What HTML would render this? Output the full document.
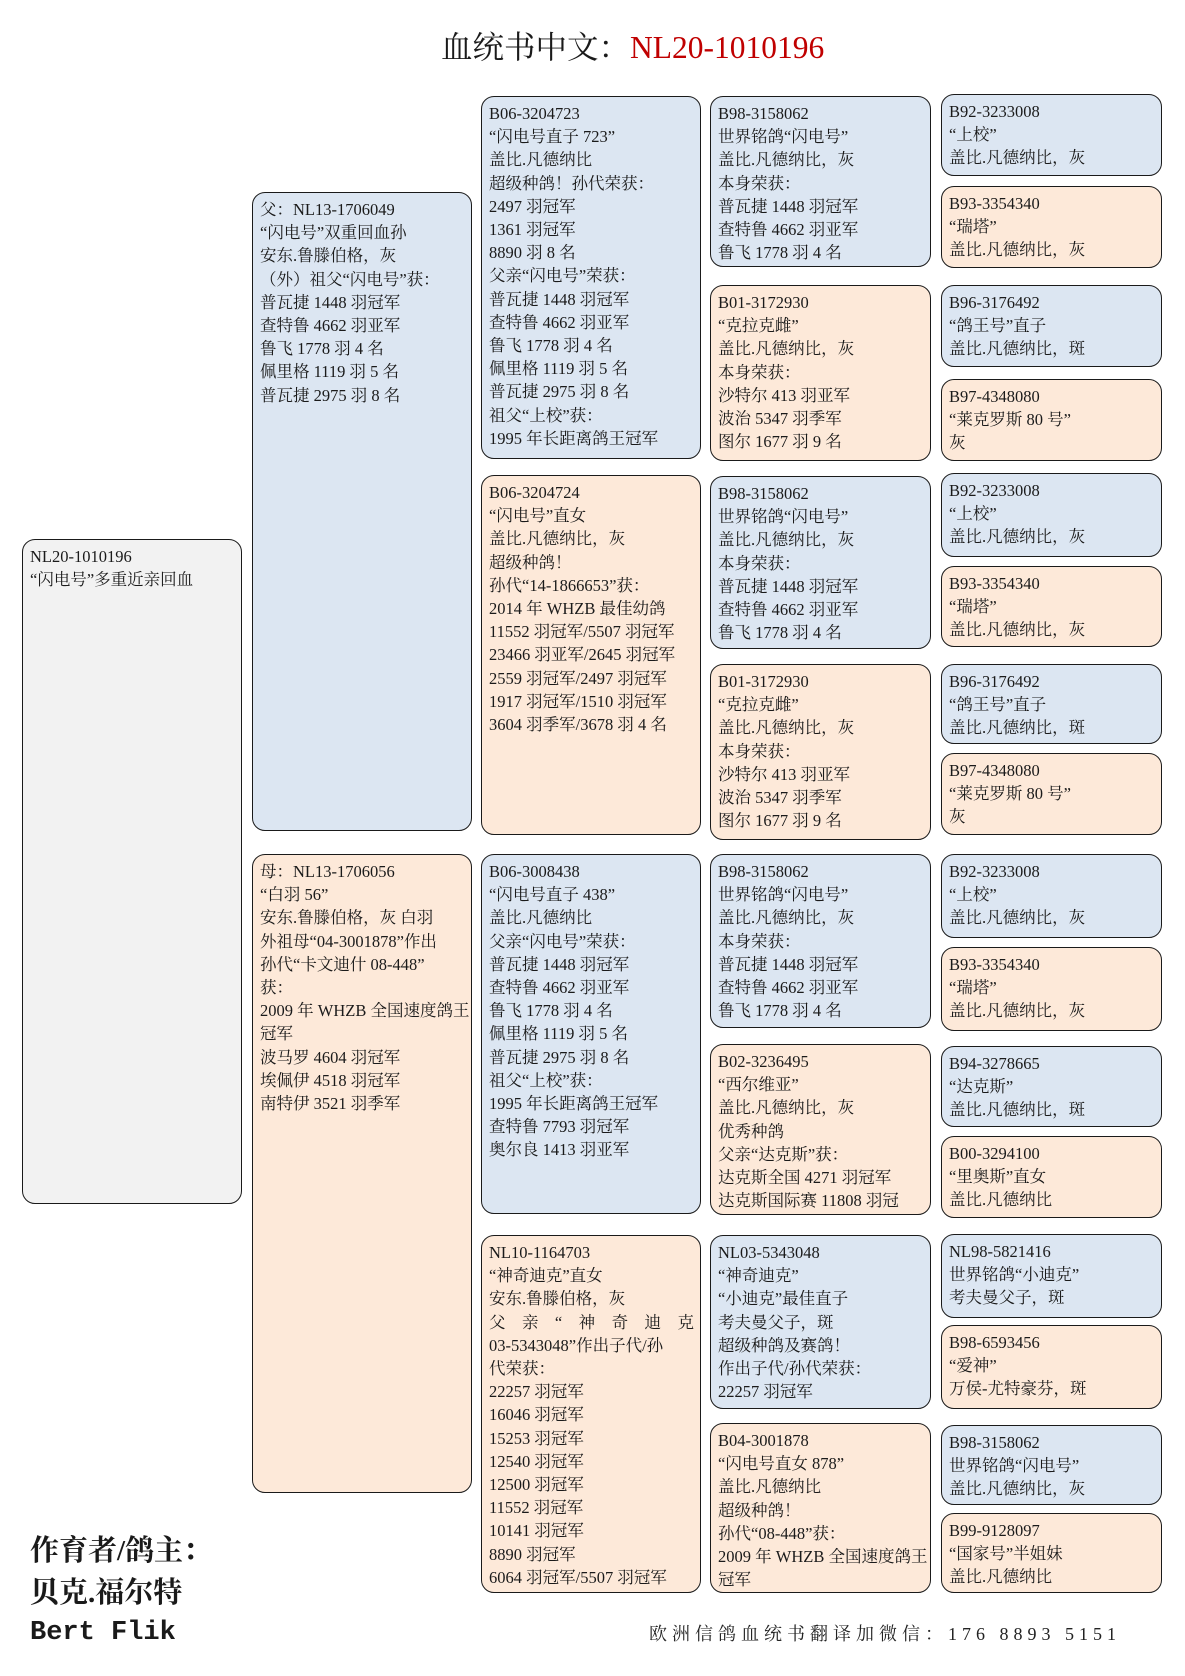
<!DOCTYPE html>
<html><head><meta charset="utf-8"><style>
*{margin:0;padding:0;box-sizing:border-box}
body{width:1185px;height:1676px;background:#fff;position:relative;overflow:hidden;font-family:"Liberation Serif","Noto Serif CJK SC",serif;color:#1a1a1a}
.b{position:absolute;border:1.6px solid #1a1a1a;border-radius:13px;padding:5px 0 0 7px;font-size:16.5px;line-height:23.2px;white-space:nowrap;overflow:hidden}
.u{background:#dce6f2}.p{background:#fde9d9}.g{background:#f2f2f2}
.j{display:block;text-align:justify;text-align-last:justify;width:205px}
</style></head><body>
<div style="position:absolute;left:441px;top:27px;font-size:31.5px;line-height:42px;white-space:nowrap">血统书中文：<span style="color:#c00000">NL20-1010196</span></div>

<div class="b g" style="left:22px;top:539px;width:220px;height:665px">NL20-1010196<br>“闪电号”多重近亲回血</div>

<div class="b u" style="left:252px;top:192px;width:220px;height:639px">父：NL13-1706049<br>“闪电号”双重回血孙<br>安东.鲁滕伯格，灰<br>（外）祖父“闪电号”获：<br>普瓦捷 1448 羽冠军<br>查特鲁 4662 羽亚军<br>鲁飞 1778 羽 4 名<br>佩里格 1119 羽 5 名<br>普瓦捷 2975 羽 8 名</div>
<div class="b p" style="left:252px;top:854px;width:220px;height:639px">母：NL13-1706056<br>“白羽 56”<br>安东.鲁滕伯格，灰 白羽<br>外祖母“04-3001878”作出<br>孙代“卡文迪什 08-448”<br>获：<br>2009 年 WHZB 全国速度鸽王<br>冠军<br>波马罗 4604 羽冠军<br>埃佩伊 4518 羽冠军<br>南特伊 3521 羽季军</div>

<div class="b u" style="left:481px;top:96px;width:220px;height:363px">B06-3204723<br>“闪电号直子 723”<br>盖比.凡德纳比<br>超级种鸽！孙代荣获：<br>2497 羽冠军<br>1361 羽冠军<br>8890 羽 8 名<br>父亲“闪电号”荣获：<br>普瓦捷 1448 羽冠军<br>查特鲁 4662 羽亚军<br>鲁飞 1778 羽 4 名<br>佩里格 1119 羽 5 名<br>普瓦捷 2975 羽 8 名<br>祖父“上校”获：<br>1995 年长距离鸽王冠军</div>
<div class="b p" style="left:481px;top:475px;width:220px;height:360px">B06-3204724<br>“闪电号”直女<br>盖比.凡德纳比，灰<br>超级种鸽！<br>孙代“14-1866653”获：<br>2014 年 WHZB 最佳幼鸽<br>11552 羽冠军/5507 羽冠军<br>23466 羽亚军/2645 羽冠军<br>2559 羽冠军/2497 羽冠军<br>1917 羽冠军/1510 羽冠军<br>3604 羽季军/3678 羽 4 名</div>
<div class="b u" style="left:481px;top:854px;width:220px;height:360px">B06-3008438<br>“闪电号直子 438”<br>盖比.凡德纳比<br>父亲“闪电号”荣获：<br>普瓦捷 1448 羽冠军<br>查特鲁 4662 羽亚军<br>鲁飞 1778 羽 4 名<br>佩里格 1119 羽 5 名<br>普瓦捷 2975 羽 8 名<br>祖父“上校”获：<br>1995 年长距离鸽王冠军<br>查特鲁 7793 羽冠军<br>奥尔良 1413 羽亚军</div>
<div class="b p" style="left:481px;top:1235px;width:220px;height:358px">NL10-1164703<br>“神奇迪克”直女<br>安东.鲁滕伯格，灰<br><span class="j">父亲“神奇迪克</span>03-5343048”作出子代/孙<br>代荣获：<br>22257 羽冠军<br>16046 羽冠军<br>15253 羽冠军<br>12540 羽冠军<br>12500 羽冠军<br>11552 羽冠军<br>10141 羽冠军<br>8890 羽冠军<br>6064 羽冠军/5507 羽冠军</div>

<div class="b u" style="left:710px;top:96px;width:221px;height:171px">B98-3158062<br>世界铭鸽“闪电号”<br>盖比.凡德纳比，灰<br>本身荣获：<br>普瓦捷 1448 羽冠军<br>查特鲁 4662 羽亚军<br>鲁飞 1778 羽 4 名</div>
<div class="b p" style="left:710px;top:285px;width:221px;height:176px">B01-3172930<br>“克拉克雌”<br>盖比.凡德纳比，灰<br>本身荣获：<br>沙特尔 413 羽亚军<br>波治 5347 羽季军<br>图尔 1677 羽 9 名</div>
<div class="b u" style="left:710px;top:476px;width:221px;height:173px">B98-3158062<br>世界铭鸽“闪电号”<br>盖比.凡德纳比，灰<br>本身荣获：<br>普瓦捷 1448 羽冠军<br>查特鲁 4662 羽亚军<br>鲁飞 1778 羽 4 名</div>
<div class="b p" style="left:710px;top:664px;width:221px;height:176px">B01-3172930<br>“克拉克雌”<br>盖比.凡德纳比，灰<br>本身荣获：<br>沙特尔 413 羽亚军<br>波治 5347 羽季军<br>图尔 1677 羽 9 名</div>
<div class="b u" style="left:710px;top:854px;width:221px;height:174px">B98-3158062<br>世界铭鸽“闪电号”<br>盖比.凡德纳比，灰<br>本身荣获：<br>普瓦捷 1448 羽冠军<br>查特鲁 4662 羽亚军<br>鲁飞 1778 羽 4 名</div>
<div class="b p" style="left:710px;top:1044px;width:221px;height:171px">B02-3236495<br>“西尔维亚”<br>盖比.凡德纳比，灰<br>优秀种鸽<br>父亲“达克斯”获：<br>达克斯全国 4271 羽冠军<br>达克斯国际赛 11808 羽冠</div>
<div class="b u" style="left:710px;top:1235px;width:221px;height:174px">NL03-5343048<br>“神奇迪克”<br>“小迪克”最佳直子<br>考夫曼父子，斑<br>超级种鸽及赛鸽！<br>作出子代/孙代荣获：<br>22257 羽冠军</div>
<div class="b p" style="left:710px;top:1423px;width:221px;height:170px">B04-3001878<br>“闪电号直女 878”<br>盖比.凡德纳比<br>超级种鸽！<br>孙代“08-448”获：<br>2009 年 WHZB 全国速度鸽王<br>冠军</div>

<div class="b u" style="left:941px;top:94px;width:221px;height:82px">B92-3233008<br>“上校”<br>盖比.凡德纳比，灰</div>
<div class="b p" style="left:941px;top:186px;width:221px;height:82px">B93-3354340<br>“瑞塔”<br>盖比.凡德纳比，灰</div>
<div class="b u" style="left:941px;top:285px;width:221px;height:82px">B96-3176492<br>“鸽王号”直子<br>盖比.凡德纳比，斑</div>
<div class="b p" style="left:941px;top:379px;width:221px;height:82px">B97-4348080<br>“莱克罗斯 80 号”<br>灰</div>
<div class="b u" style="left:941px;top:473px;width:221px;height:84px">B92-3233008<br>“上校”<br>盖比.凡德纳比，灰</div>
<div class="b p" style="left:941px;top:566px;width:221px;height:81px">B93-3354340<br>“瑞塔”<br>盖比.凡德纳比，灰</div>
<div class="b u" style="left:941px;top:664px;width:221px;height:80px">B96-3176492<br>“鸽王号”直子<br>盖比.凡德纳比，斑</div>
<div class="b p" style="left:941px;top:753px;width:221px;height:82px">B97-4348080<br>“莱克罗斯 80 号”<br>灰</div>
<div class="b u" style="left:941px;top:854px;width:221px;height:84px">B92-3233008<br>“上校”<br>盖比.凡德纳比，灰</div>
<div class="b p" style="left:941px;top:947px;width:221px;height:84px">B93-3354340<br>“瑞塔”<br>盖比.凡德纳比，灰</div>
<div class="b u" style="left:941px;top:1046px;width:221px;height:81px">B94-3278665<br>“达克斯”<br>盖比.凡德纳比，斑</div>
<div class="b p" style="left:941px;top:1136px;width:221px;height:82px">B00-3294100<br>“里奥斯”直女<br>盖比.凡德纳比</div>
<div class="b u" style="left:941px;top:1234px;width:221px;height:84px">NL98-5821416<br>世界铭鸽“小迪克”<br>考夫曼父子，斑</div>
<div class="b p" style="left:941px;top:1325px;width:221px;height:84px">B98-6593456<br>“爱神”<br>万侯-尤特豪芬，斑</div>
<div class="b u" style="left:941px;top:1425px;width:221px;height:80px">B98-3158062<br>世界铭鸽“闪电号”<br>盖比.凡德纳比，灰</div>
<div class="b p" style="left:941px;top:1513px;width:221px;height:80px">B99-9128097<br>“国家号”半姐妹<br>盖比.凡德纳比</div>

<div style="position:absolute;left:30px;top:1530px;font-size:29px;line-height:42px;white-space:nowrap;font-weight:bold">作育者/鸽主：<br>贝克.福尔特</div>
<div style="position:absolute;left:30px;top:1613px;font-family:'Liberation Mono',monospace;font-size:27px;line-height:40px;white-space:nowrap;font-weight:bold">Bert Flik</div>
<div style="position:absolute;left:649px;top:1621px;font-size:18px;line-height:26px;letter-spacing:5px;white-space:nowrap;color:#222">欧洲信鸽血统书翻译加微信：176 8893 5151</div>
</body></html>
